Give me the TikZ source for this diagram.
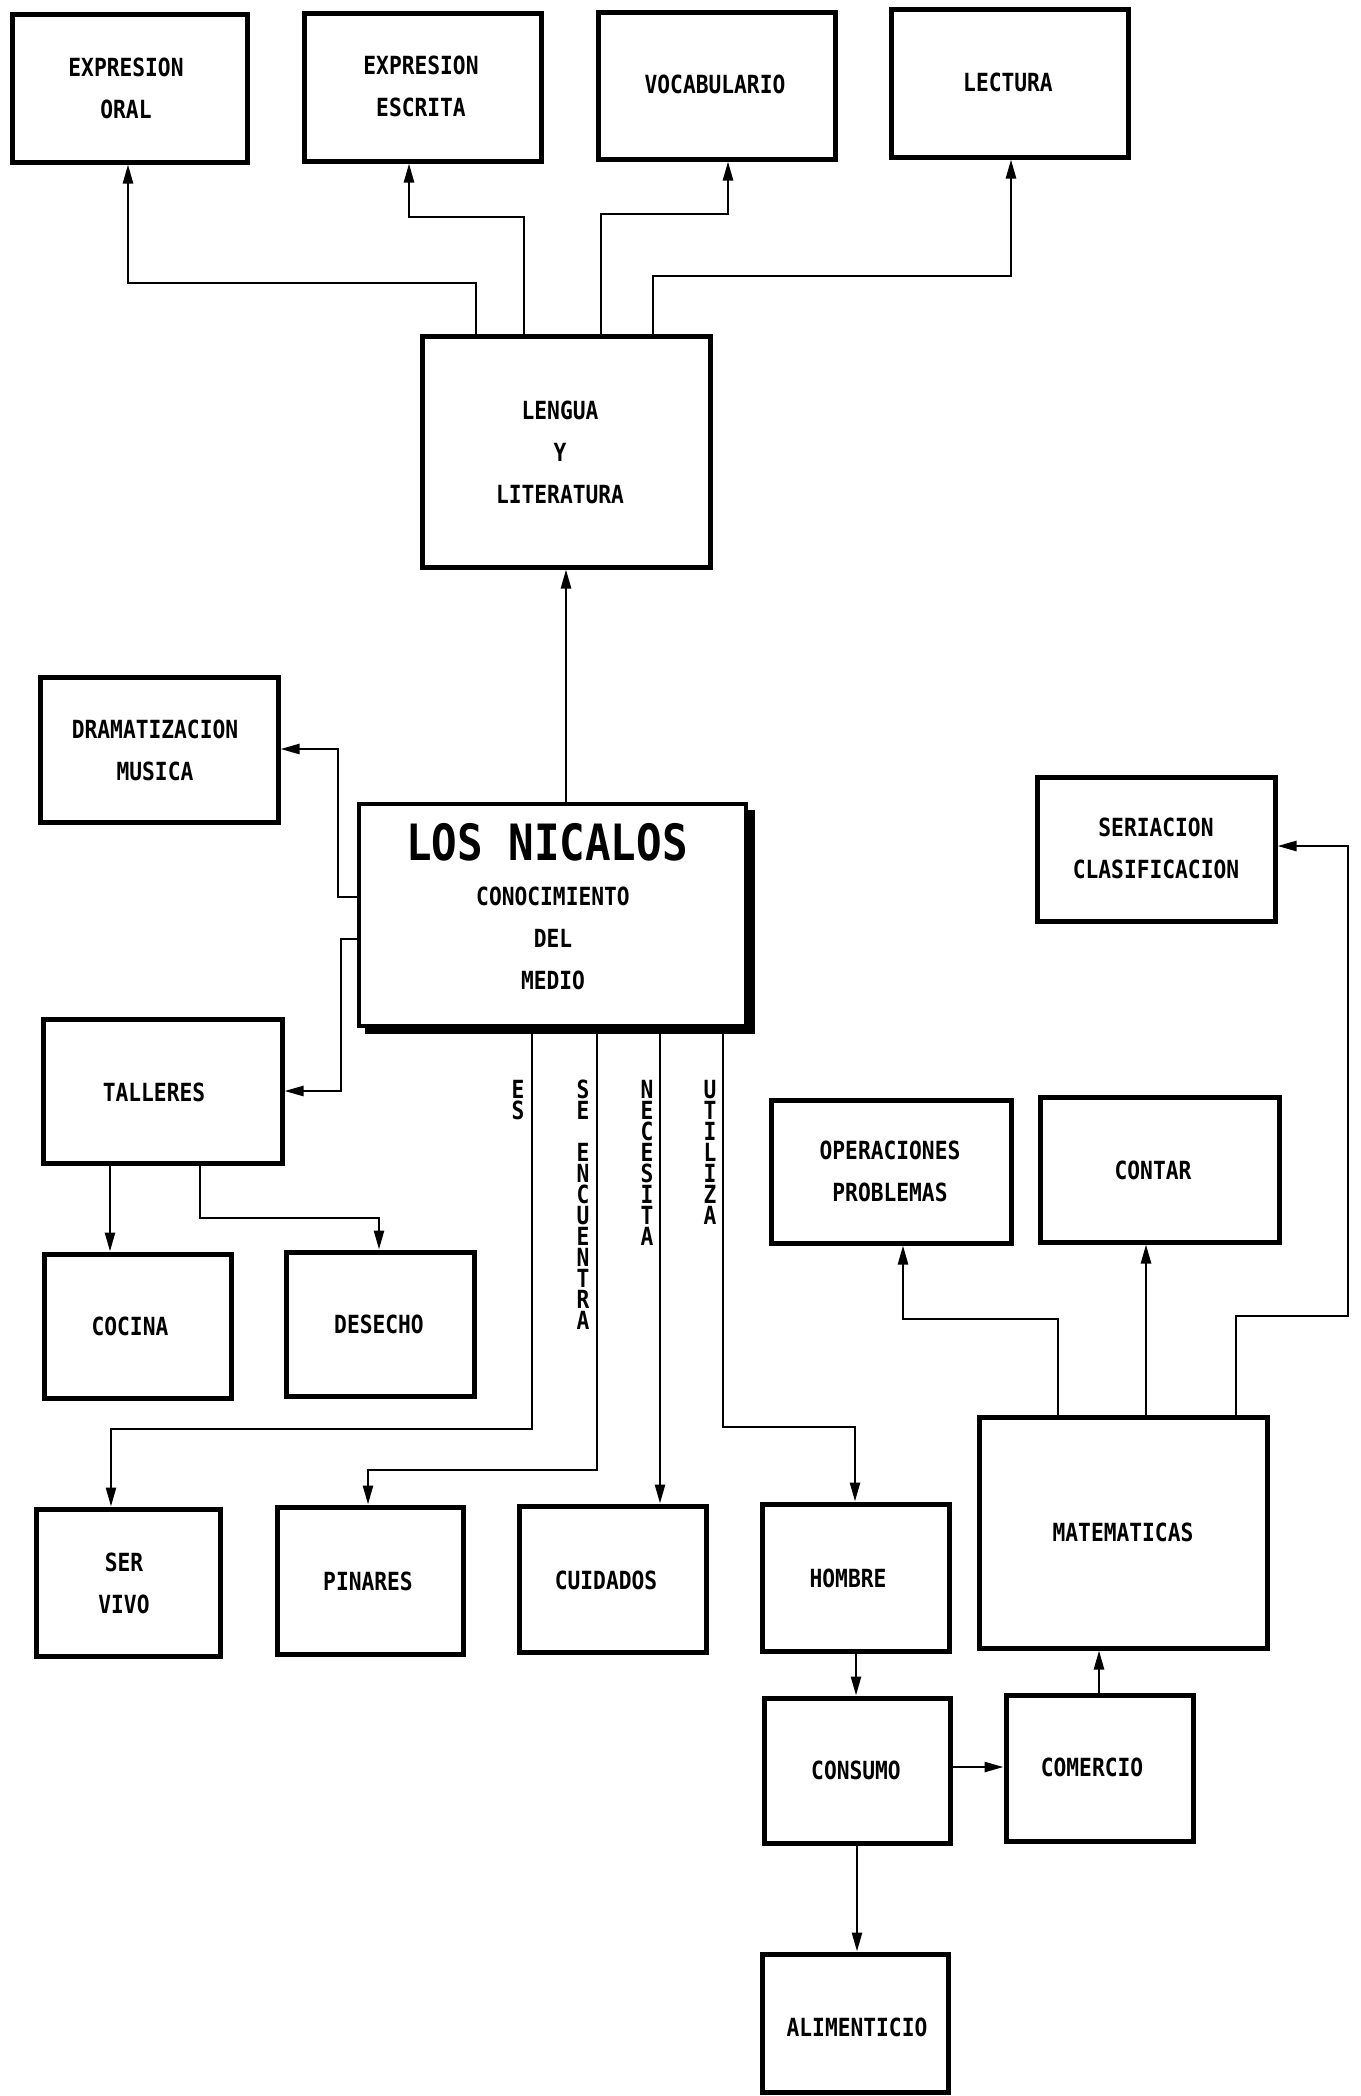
\documentclass[tikz,border=0pt]{standalone}
\usepackage{fontspec}
\usetikzlibrary{arrows.meta,fit,calc}
\newfontfamily\plotfont[FakeStretch=0.85]{DejaVu Sans Mono}
\tikzset{
  box/.style={draw, line width=5pt, inner sep=0pt},
  lbl/.style={font=\plotfont\bfseries\fontsize{25}{42}\selectfont, align=center, inner sep=0pt},
  biglbl/.style={font=\plotfont\bfseries\fontsize{50}{60}\selectfont, align=center, inner sep=0pt},
  vlbl/.style={font=\plotfont\bfseries\fontsize{25}{21}\selectfont, align=center, inner sep=0pt, anchor=north},
  conn/.style={line width=2.5pt},
  arr/.style={conn, -{Triangle[length=19pt,width=10pt]}},
}
\begin{document}
\begin{tikzpicture}[x=1pt,y=-1pt]
\fill[white] (0,0) rectangle (1360,2096);
\useasboundingbox (0,0) rectangle (1360,2096);

% boxes
\node[box, fit={(12,14) (247,162)}] (oral) {};
\node[box, fit={(304,13) (541,161)}] (escrita) {};
\node[box, fit={(598,12) (835,159)}] (vocab) {};
\node[box, fit={(891,9) (1128,157)}] (lectura) {};
\node[box, fit={(422,336) (710,567)}] (lengua) {};
\node[box, fit={(40,677) (278,822)}] (dram) {};
\node[draw, line width=3.5pt, inner sep=0pt, outer sep=0pt, fit={(359,804) (746,1026)}] (nicalos) {};
\node[box, fit={(43,1019) (282,1163)}] (talleres) {};
\node[box, fit={(44,1254) (231,1398)}] (cocina) {};
\node[box, fit={(286,1252) (474,1396)}] (desecho) {};
\node[box, fit={(1037,777) (1275,921)}] (seriacion) {};
\node[box, fit={(771,1100) (1011,1243)}] (operaciones) {};
\node[box, fit={(1040,1097) (1279,1242)}] (contar) {};
\node[box, fit={(36,1509) (220,1656)}] (servivo) {};
\node[box, fit={(277,1507) (463,1654)}] (pinares) {};
\node[box, fit={(519,1506) (706,1652)}] (cuidados) {};
\node[box, fit={(762,1504) (949,1651)}] (hombre) {};
\node[box, fit={(979,1417) (1267,1648)}] (matematicas) {};
\node[box, fit={(764,1698) (950,1843)}] (consumo) {};
\node[box, fit={(1006,1695) (1193,1841)}] (comercio) {};
\node[box, fit={(762,1954) (948,2092)}] (alimenticio) {};

% shadow of central box (thickened right and bottom edges)
\draw[line width=9pt] ([shift={(4,6)}]nicalos.north east) -- ([shift={(4,8)}]nicalos.south east);
\draw[line width=10pt] ([shift={(6,3)}]nicalos.south west) -- ([shift={(8.5,3)}]nicalos.south east);

% texts
\node[lbl] (toral) at (126,88.5) {EXPRESION\\ORAL};
\node[lbl] (tescrita) at (421,86.5) {EXPRESION\\ESCRITA};
\node[lbl] (tvocab) at (715,84) {VOCABULARIO};
\node[lbl] (tlectura) at (1008,82) {LECTURA};
\node[lbl] (tlengua) at (560,452) {LENGUA\\Y\\LITERATURA};
\node[lbl] (tdram) at (155,750) {DRAMATIZACION\\MUSICA};
\node[biglbl] (ttitle) at (547,842) {LOS NICALOS};
\node[lbl] (tmedio) at (553,938.5) {CONOCIMIENTO\\DEL\\MEDIO};
\node[lbl] (ttalleres) at (154,1092) {TALLERES};
\node[lbl] (tcocina) at (130,1326) {COCINA};
\node[lbl] (tdesecho) at (379,1324) {DESECHO};
\node[lbl] (tseriacion) at (1156,848.5) {SERIACION\\CLASIFICACION};
\node[lbl] (toperaciones) at (890,1171.5) {OPERACIONES\\PROBLEMAS};
\node[lbl] (tcontar) at (1153,1170) {CONTAR};
\node[lbl] (tservivo) at (124,1583.5) {SER\\VIVO};
\node[lbl] (tpinares) at (368,1581) {PINARES};
\node[lbl] (tcuidados) at (606,1580) {CUIDADOS};
\node[lbl] (thombre) at (848,1578) {HOMBRE};
\node[lbl] (tmatematicas) at (1123,1532) {MATEMATICAS};
\node[lbl] (tconsumo) at (856,1770) {CONSUMO};
\node[lbl] (tcomercio) at (1092,1767) {COMERCIO};
\node[lbl] (talimenticio) at (857,2027) {ALIMENTICIO};

% vertical connector labels
\node[vlbl] (les) at (518,1080) {E\\S};
\node[vlbl] (lse) at (583,1080) {S\\E\\ \\E\\N\\C\\U\\E\\N\\T\\R\\A};
\node[vlbl] (lnec) at (647,1080) {N\\E\\C\\E\\S\\I\\T\\A};
\node[vlbl] (luti) at (710,1080) {U\\T\\I\\L\\I\\Z\\A};

% connectors from LENGUA Y LITERATURA
\coordinate (c1) at (476,283); \coordinate (d1) at (128,283);
\draw[arr] (lengua.north -| c1) -- (c1) -- (d1) -- (oral.south -| d1);
\coordinate (c2) at (524,217); \coordinate (d2) at (409,217);
\draw[arr] (lengua.north -| c2) -- (c2) -- (d2) -- (escrita.south -| d2);
\coordinate (c3) at (601,214); \coordinate (d3) at (728,214);
\draw[arr] (lengua.north -| c3) -- (c3) -- (d3) -- (vocab.south -| d3);
\coordinate (c4) at (653,276); \coordinate (d4) at (1011,276);
\draw[arr] (lengua.north -| c4) -- (c4) -- (d4) -- (lectura.south -| d4);

% from LOS NICALOS
\coordinate (v5) at (566,0);
\draw[arr] (nicalos.north -| v5) -- (lengua.south -| v5);
\coordinate (c6) at (338,897); \coordinate (d6) at (338,749);
\draw[arr] (nicalos.west |- c6) -- (c6) -- (d6) -- (dram.east |- d6);
\coordinate (c7) at (341,939); \coordinate (d7) at (341,1091);
\draw[arr] (nicalos.west |- c7) -- (c7) -- (d7) -- (talleres.east |- d7);

% from TALLERES
\coordinate (v8) at (110,0);
\draw[arr] (talleres.south -| v8) -- (cocina.north -| v8);
\coordinate (c9) at (200,1218); \coordinate (d9) at (379,1218);
\draw[arr] (talleres.south -| c9) -- (c9) -- (d9) -- (desecho.north -| d9);

% labelled connectors
\coordinate (c10) at (532,1429); \coordinate (d10) at (111,1429);
\draw[arr] (nicalos.south -| c10) -- (c10) -- (d10) -- (servivo.north -| d10);
\coordinate (c11) at (597,1470); \coordinate (d11) at (368,1470);
\draw[arr] (nicalos.south -| c11) -- (c11) -- (d11) -- (pinares.north -| d11);
\coordinate (v12) at (660,0);
\draw[arr] (nicalos.south -| v12) -- (cuidados.north -| v12);
\coordinate (c13) at (723,1427); \coordinate (d13) at (855,1427);
\draw[arr] (nicalos.south -| c13) -- (c13) -- (d13) -- (hombre.north -| d13);

% from MATEMATICAS
\coordinate (c14) at (1058,1319); \coordinate (d14) at (903,1319);
\draw[arr] (matematicas.north -| c14) -- (c14) -- (d14) -- (operaciones.south -| d14);
\coordinate (v15) at (1146,0);
\draw[arr] (matematicas.north -| v15) -- (contar.south -| v15);
\coordinate (c16) at (1236,1316); \coordinate (d16) at (1348,1316); \coordinate (e16) at (1348,846);
\draw[arr] (matematicas.north -| c16) -- (c16) -- (d16) -- (e16) -- (seriacion.east |- e16);

% lower chain
\coordinate (v17) at (856,0);
\draw[arr] (hombre.south -| v17) -- (consumo.north -| v17);
\coordinate (h18) at (0,1767);
\draw[arr] (consumo.east |- h18) -- (comercio.west |- h18);
\coordinate (v19) at (1099,0);
\draw[arr] (comercio.north -| v19) -- (matematicas.south -| v19);
\coordinate (v20) at (857,0);
\draw[arr] (consumo.south -| v20) -- (alimenticio.north -| v20);
\end{tikzpicture}
\end{document}
